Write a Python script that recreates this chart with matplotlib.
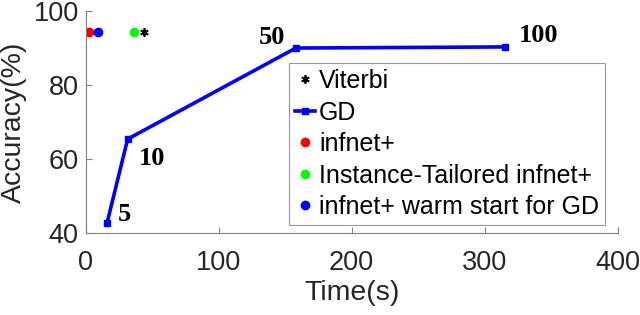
import matplotlib
matplotlib.use("Agg")
import matplotlib.pyplot as plt

gd_time = [16, 31.5, 158, 315]
gd_acc = [42.7, 65.4, 90.0, 90.3]
gd_labels = ["5", "10", "50", "100"]
viterbi_time = [44]
viterbi_acc = [94.2]
infnet_time = [2.3]
infnet_acc = [94.2]
tailored_time = [36]
tailored_acc = [94.2]
warm_time = [9.5]
warm_acc = [94.2]

plt.rcParams['font.family'] = ['Liberation Sans', 'DejaVu Sans']
fig = plt.figure(figsize=(6.4, 3.15), dpi=100)
ax = fig.add_axes([0.134, 0.26, 0.831, 0.705])

ax.plot(viterbi_time, viterbi_acc, linestyle='none', marker=(6, 2, 0), color='black',
        markersize=6, markeredgewidth=1.3, label='Viterbi')
ax.plot(gd_time, gd_acc, color='#0000ff', linewidth=2.6, marker='s', markersize=5,
        label='GD')
ax.plot(infnet_time, infnet_acc, linestyle='none', marker='o', color='#ff0000',
        markersize=6, label='infnet+')
ax.plot(tailored_time, tailored_acc, linestyle='none', marker='o', color='#00ff00',
        markersize=6, label='Instance-Tailored infnet+')
ax.plot(warm_time, warm_acc, linestyle='none', marker='o', color='#0000ff',
        markersize=6, label='infnet+ warm start for GD')

offsets = [(8, 6), (8, -14), (-27, 7.5), (10, 8.5)]
for t, a, lab, off in zip(gd_time, gd_acc, gd_labels, offsets):
    ax.annotate(lab, (t, a), xytext=off, textcoords='offset points',
                fontsize=19, fontweight='bold', family='Liberation Serif',
                ha='left', va='center')

ax.set_xlim(0, 400)
ax.set_ylim(40, 100)
ax.set_xticks([0, 100, 200, 300, 400])
ax.set_yticks([40, 60, 80, 100])
ax.set_xlabel('Time(s)', fontsize=20.5, color='#262626', labelpad=3)
ax.set_ylabel('Accuracy(%)', fontsize=20.5, color='#262626', labelpad=5)
ax.tick_params(direction='in', length=4, colors='#262626', labelsize=19.5,
               color='#808080')
ax.tick_params(axis='x', pad=12)
ax.tick_params(axis='y', pad=5)
for s in ['top', 'right']:
    ax.spines[s].set_visible(False)
for s in ['left', 'bottom']:
    ax.spines[s].set_color('#808080')
    ax.spines[s].set_linewidth(0.8)

leg = ax.legend(loc='upper left', bbox_to_anchor=(0.382, 0.766), fontsize=18,
                frameon=True, fancybox=False, edgecolor='#808080',
                handlelength=0.8, handletextpad=0.15, borderpad=0.25,
                labelspacing=0.3, borderaxespad=0)
leg.get_frame().set_linewidth(0.8)

fig.savefig('out.png', dpi=100)
